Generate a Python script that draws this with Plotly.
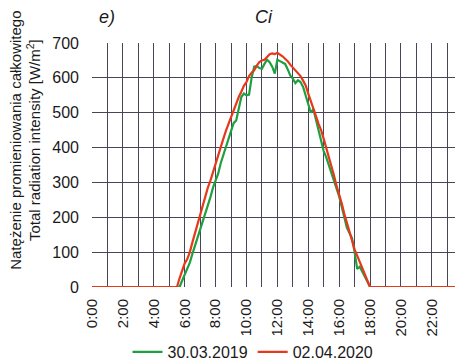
import plotly.graph_objects as go

# time in hours (10-minute steps during daylight)
red_t = [0, 5.5, 5.667, 5.833, 6.0, 6.167, 6.333, 6.5, 6.667, 6.833, 7.0, 7.167, 7.333, 7.5, 7.667, 7.833,
         8.0, 8.167, 8.333, 8.5, 8.667, 8.833, 9.0, 9.167, 9.333, 9.5, 9.667, 9.833, 10.0, 10.167, 10.333,
         10.5, 10.667, 10.833, 11.0, 11.167, 11.333, 11.5, 11.667, 11.833, 12.0, 12.167, 12.333, 12.5,
         12.667, 12.833, 13.0, 13.167, 13.333, 13.5, 13.667, 13.833, 14.0, 14.167, 14.333, 14.5, 14.667,
         14.833, 15.0, 15.167, 15.333, 15.5, 15.667, 15.833, 16.0, 16.167, 16.333, 16.5, 16.667, 16.833,
         17.0, 17.167, 17.333, 17.5, 17.667, 17.833, 18.0, 24.0]
red_v = [0, 0, 25, 50, 68, 80, 100, 128, 155, 182, 210, 235, 262, 285, 305, 330,
         355, 380, 403, 425, 448, 468, 485, 505, 525, 545, 560, 577, 588, 605, 615,
         622, 635, 645, 650, 652, 660, 668, 670, 668, 672, 668, 662, 655,
         648, 638, 630, 622, 614, 605, 592, 578, 555, 535, 515, 490, 468,
         450, 425, 400, 375, 350, 320, 290, 268, 240, 210, 185, 158, 130,
         108, 90, 72, 50, 32, 15, 0, 0]

green_t = [0, 5.667, 5.833, 6.0, 6.167, 6.333, 6.5, 6.667, 6.833, 7.0, 7.167, 7.333, 7.5, 7.667, 7.833,
           8.0, 8.167, 8.333, 8.5, 8.667, 8.833, 9.0, 9.167, 9.333, 9.5, 9.667, 9.833, 10.0, 10.167, 10.333,
           10.5, 10.667, 10.833, 11.0, 11.167, 11.333, 11.5, 11.667, 11.833, 12.0, 12.167, 12.333, 12.5,
           12.667, 12.833, 13.0, 13.167, 13.333, 13.5, 13.667, 13.833, 14.0, 14.167, 14.333, 14.5, 14.667,
           14.833, 15.0, 15.167, 15.333, 15.5, 15.667, 15.833, 16.0, 16.167, 16.333, 16.5, 16.667, 16.833,
           17.0, 17.167, 17.333, 17.5, 17.667, 17.833, 18.0, 24.0]
green_v = [0, 0, 18, 35, 50, 70, 95, 118, 140, 165, 190, 210, 235, 258, 285,
           305, 325, 355, 378, 402, 428, 450, 470, 478, 515, 545, 555, 550, 552, 600,
           632, 634, 628, 626, 640, 652, 645, 632, 612, 652, 648, 645, 640,
           625, 607, 598, 585, 593, 588, 574, 550, 522, 500, 510, 478, 445,
           418, 390, 372, 350, 330, 310, 288, 260, 230, 195, 170, 155, 140,
           100, 52, 58, 45, 30, 15, 0, 0]

hour_ticks = list(range(0, 24))
hour_labels = [f"{h}:00" if h % 2 == 0 else "" for h in hour_ticks]
y_ticks = [0, 100, 200, 300, 400, 500, 600, 700]

FONT = "Liberation Sans, Arial, sans-serif"
GRID = "#4a4458"

fig = go.Figure()
fig.add_trace(go.Scatter(x=green_t, y=green_v, mode="lines", name="30.03.2019",
                         line=dict(color="#1fa040", width=2.2)))
fig.add_trace(go.Scatter(x=red_t, y=red_v, mode="lines", name="02.04.2020",
                         line=dict(color="#e8381c", width=2.2)))

fig.update_layout(
    width=455, height=364,
    margin=dict(l=92, r=0, t=43, b=77),
    paper_bgcolor="white", plot_bgcolor="white",
    font=dict(family=FONT, size=16, color="#1a1a1a"),
    showlegend=True,
    legend=dict(orientation="h", xref="container", yref="container",
                x=253 / 455, xanchor="center", y=(364 - 352) / 364, yanchor="middle",
                font=dict(size=16), itemwidth=30, tracegroupgap=0),
    xaxis=dict(range=[0, 23.5], tickvals=hour_ticks, ticktext=hour_labels, tickangle=-90,
               showgrid=True, gridcolor=GRID, gridwidth=1.2, zeroline=False, automargin=False,
               showline=False, ticks="", ticklabelstandoff=8, fixedrange=True,
               tickfont=dict(size=15)),
    yaxis=dict(range=[0, 700], tickvals=y_ticks, showgrid=True, gridcolor=GRID, gridwidth=1.2,
               zeroline=False, showline=False, ticks="", ticklabelstandoff=12, fixedrange=True,
               automargin=False, tickfont=dict(size=16)),
    annotations=[
        dict(text="Natężenie promieniowania całkowitego<br>Total radiation intensity [W/m<sup>2</sup>]",
             textangle=-90, xref="paper", yref="paper", x=-0.184, y=0.6,
             xanchor="center", yanchor="middle", showarrow=False, font=dict(size=15)),
        dict(text="<i>e)</i>", xref="paper", yref="paper", x=(107 - 92) / 363, y=1.105,
             xanchor="center", yanchor="middle", showarrow=False, font=dict(size=18)),
        dict(text="<i>Ci</i>", xref="paper", yref="paper", x=(264 - 92) / 363, y=1.105,
             xanchor="center", yanchor="middle", showarrow=False, font=dict(size=18)),
    ],
)

fig.write_html("out.html")
